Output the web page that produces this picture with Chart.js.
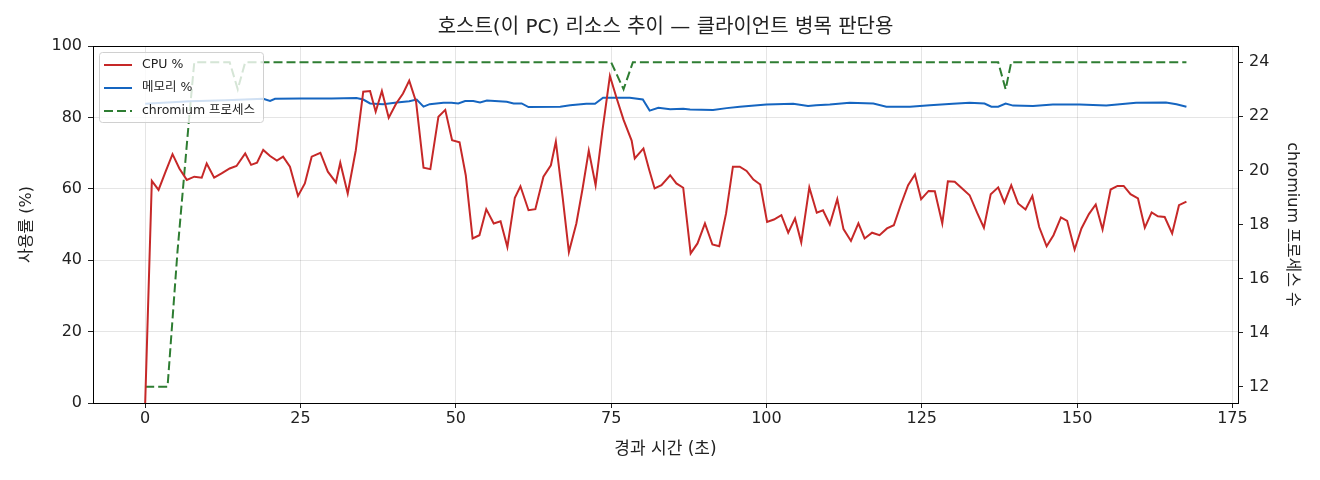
<!DOCTYPE html>
<html lang="ko">
<head>
<meta charset="utf-8">
<script src="https://cdn.jsdelivr.net/npm/chart.js@4.4.1/dist/chart.umd.min.js"></script>
<style>
  html, body { margin: 0; padding: 0; background: #fff; }
  #wrap { width: 1320px; height: 480px; }
</style>
</head>
<body>
<div id="wrap"><canvas id="chart"></canvas></div>
<script>
// 경과 시간 (초) — CPU 샘플 시점
const times = [0,1.07,2.15,3.3,4.4,5.5,6.7,7.9,9.1,9.9,
  11.1,12.3,13.6,14.7,16.1,17.05,18,19,20.1,21.2,
  22.2,23.3,24.6,25.7,26.8,28.2,29.4,30.7,31.4,32.6,
  33.9,35.1,36.2,37.1,38.1,39.2,40.4,41.5,42.5,43.6,
  44.8,45.9,47.2,48.3,49.4,50.6,51.6,52.7,53.8,54.9,
  56.1,57.2,58.3,59.5,60.4,61.7,62.8,64.1,65.3,66.1,
  67.2,68.2,69.4,70.4,71.4,72.5,73.6,74.8,75.9,77.0,
  78.3,78.8,80.2,81.1,82.0,83.1,84.5,85.5,86.6,87.8,
  88.9,90.1,91.3,92.4,93.5,94.6,95.7,96.8,97.9,99.0,
  100.1,101.2,102.4,103.5,104.6,105.6,106.9,108.1,109.1,110.2,
  111.4,112.4,113.6,114.8,115.8,117.0,118.2,119.4,120.5,121.6,
  122.8,123.9,124.9,126.1,127.1,128.3,129.2,130.3,131.5,132.7,
  133.9,135.0,136.1,137.3,138.3,139.4,140.5,141.7,142.8,143.9,
  145.1,146.2,147.4,148.4,149.6,150.7,151.9,153.0,154.1,155.4,
  156.5,157.5,158.6,159.8,160.9,162.0,163.0,164.1,165.3,166.4,
  167.6];

// CPU %
const cpu = [0,62.2,59.7,64.9,69.7,65.7,62.5,63.4,63.1,67.1,
  63.1,64.3,65.7,66.4,69.9,66.7,67.3,70.9,69.2,67.9,
  69.0,66.2,58.0,61.5,69.0,70.1,64.8,61.8,67.3,58.7,
  70.8,87.2,87.4,81.6,87.4,79.9,83.9,86.7,90.3,84.4,
  65.9,65.5,80.2,82.1,73.6,73.0,63.8,46.1,47.0,54.3,
  50.3,50.9,43.7,57.5,60.7,54.0,54.3,63.4,66.6,73.2,
  57.5,42.3,50.3,60.0,70.7,61.0,76.3,91.6,85.3,79.3,
  73.5,68.5,71.3,65.5,60.1,61.0,63.8,61.5,60.3,41.9,
  44.7,50.3,44.4,43.9,53.1,66.2,66.2,65.0,62.6,61.2,
  50.7,51.4,52.6,47.7,51.7,45.0,60.4,53.3,54.0,50.0,
  57.1,48.7,45.4,50.3,46.1,47.7,47.0,48.9,49.8,55.4,
  61.0,64.0,57.1,59.4,59.3,50.3,62.1,62.0,60.1,58.2,
  53.3,49.1,58.5,60.4,56.1,61.0,55.9,54.2,58.0,49.3,
  43.9,47.0,52.0,51.0,43.0,48.9,52.9,55.6,48.6,59.8,
  60.8,60.8,58.5,57.3,49.1,53.4,52.3,52.1,47.5,55.4,
  56.4];

// 메모리 %
const memTimes = [0,7.2,13,19.0,20.1,20.9,25,30,34.0,35.1,
  36.2,38.3,40.5,42.5,43.7,44.8,45.8,48.0,49.3,50.4,
  51.5,52.8,53.9,55.0,58.2,59.3,60.6,61.7,66.8,68.4,
  71.0,72.4,73.7,78.0,80.1,81.2,82.6,84.5,86.6,87.7,
  91.4,93.6,95.7,100.0,104.3,106.7,108.0,110.2,113.4,117.2,
  119.3,123.1,126.3,130.0,132.7,135.1,136.2,137.3,138.5,139.7,
  142.9,146.1,150.4,154.7,159.5,164.3,166.0,167.6];
const mem = [83.8,84.5,84.8,85.2,84.6,85.2,85.3,85.3,85.4,85.0,
  83.9,83.7,84.2,84.5,85.0,83.0,83.7,84.1,84.1,83.9,
  84.6,84.6,84.2,84.7,84.4,83.9,83.9,82.9,83.0,83.4,
  83.8,83.8,85.5,85.5,85.0,81.9,82.7,82.3,82.4,82.2,
  82.1,82.6,83.0,83.6,83.8,83.2,83.4,83.6,84.1,83.9,
  83.0,83.0,83.4,83.8,84.1,83.9,83.0,83.0,83.9,83.3,
  83.2,83.6,83.6,83.3,84.1,84.2,83.7,83.0];

// chromium 프로세스 수
const procTimes = [0,3.6,5.2,7.1,7.9,13.6,14.9,16.1,75.0,77.0,78.5,137.3,138.5,139.4,167.6];
const procs = [12,12,17,22,24,24,23,24,24,23,24,24,23,24,24];

const xTicks = [0,25,50,75,100,125,150,175];
const yTicks = [0,20,40,60,80,100];
const procTicks = [12,14,16,18,20,22,24];

const FONT = '"DejaVu Sans", "Noto Sans CJK KR", sans-serif';
const TEXT = '#222';
const GRID = 'rgba(0,0,0,0.1)';

Chart.defaults.font.family = FONT;
Chart.defaults.color = TEXT;

const toPoints = (xs, ys) => xs.map((x, i) => ({ x: x, y: ys[i] }));

// 축 박스와 범례 (matplotlib 스타일)
const frameLegend = {
  id: 'frameLegend',
  afterDatasetsDraw(chart) {
    const { ctx, chartArea: a } = chart;
    const bx = a.left + 6, by = a.top + 6, bw = 164, bh = 70;
    ctx.save();
    ctx.beginPath();
    ctx.roundRect(bx + 0.5, by + 0.5, bw, bh, 3);
    ctx.fillStyle = 'rgba(255,255,255,0.8)';
    ctx.fill();
    ctx.strokeStyle = '#d0d0d0';
    ctx.lineWidth = 1;
    ctx.stroke();
    ctx.font = '12.5px ' + FONT;
    ctx.textBaseline = 'middle';
    chart.data.datasets.forEach((ds, i) => {
      const y = by + 13 + i * 23;
      ctx.beginPath();
      ctx.setLineDash(ds.borderDash || []);
      ctx.strokeStyle = ds.borderColor;
      ctx.lineWidth = 2;
      ctx.moveTo(bx + 5, y);
      ctx.lineTo(bx + 33, y);
      ctx.stroke();
      ctx.setLineDash([]);
      ctx.fillStyle = TEXT;
      ctx.fillText(ds.label, bx + 43, y);
    });
    ctx.restore();
  },
  afterDraw(chart) {
    const { ctx, chartArea: a } = chart;
    ctx.save();
    ctx.strokeStyle = '#000';
    ctx.lineWidth = 1;
    ctx.strokeRect(Math.round(a.left) + 0.5, Math.round(a.top) + 0.5,
      Math.round(a.width), Math.round(a.height));
    ctx.restore();
  }
};

new Chart(document.getElementById('chart'), {
  type: 'line',
  data: {
    datasets: [
      {
        label: 'CPU %',
        data: toPoints(times, cpu),
        borderColor: '#c62828',
        borderWidth: 2,
        yAxisID: 'y'
      },
      {
        label: '메모리 %',
        data: toPoints(memTimes, mem),
        borderColor: '#1565c0',
        borderWidth: 2,
        yAxisID: 'y'
      },
      {
        label: 'chromium 프로세스',
        data: toPoints(procTimes, procs),
        borderColor: '#2e7d32',
        borderWidth: 2,
        borderDash: [9, 4],
        yAxisID: 'y2'
      }
    ]
  },
  options: {
    responsive: true,
    maintainAspectRatio: false,
    devicePixelRatio: 1,
    animation: false,
    layout: { padding: 0 },
    elements: {
      point: { radius: 0 },
      line: { tension: 0, fill: false }
    },
    plugins: {
      legend: { display: false },
      tooltip: { enabled: false },
      title: {
        display: true,
        text: '호스트(이 PC) 리소스 추이 — 클라이언트 병목 판단용',
        fullSize: false,
        color: TEXT,
        font: { size: 20, weight: 'normal' },
        padding: { top: 16, bottom: 6 }
      }
    },
    scales: {
      x: {
        type: 'linear',
        min: -8.4,
        max: 175.9,
        afterBuildTicks: s => { s.ticks = xTicks.map(v => ({ value: v })); },
        afterFit: s => { s.height = 77; },
        ticks: { color: TEXT, font: { size: 16 }, padding: 1, maxRotation: 0 },
        grid: { color: GRID, tickColor: TEXT, tickLength: 5 },
        border: { display: false },
        title: {
          display: true,
          text: '경과 시간 (초)',
          color: TEXT,
          font: { size: 17 },
          padding: { bottom: 20 }
        }
      },
      y: {
        position: 'left',
        min: 0,
        max: 100,
        afterBuildTicks: s => { s.ticks = yTicks.map(v => ({ value: v })); },
        afterFit: s => { s.width = 93; },
        ticks: { color: TEXT, font: { size: 16 }, padding: 6 },
        grid: { color: GRID, tickColor: TEXT, tickLength: 5 },
        border: { display: false },
        title: {
          display: true,
          text: '사용률 (%)',
          color: TEXT,
          font: { size: 16 },
          padding: { top: 17 }
        }
      },
      y2: {
        position: 'right',
        min: 11.4,
        max: 24.6,
        afterBuildTicks: s => { s.ticks = procTicks.map(v => ({ value: v })); },
        afterFit: s => { s.width = 82; },
        ticks: { color: TEXT, font: { size: 16 }, padding: 6 },
        grid: { drawOnChartArea: false, tickColor: TEXT, tickLength: 5 },
        border: { display: false },
        title: {
          display: true,
          text: 'chromium 프로세스 수',
          color: TEXT,
          font: { size: 16 },
          padding: { top: 18 }
        }
      }
    }
  },
  plugins: [frameLegend]
});
</script>
</body>
</html>
